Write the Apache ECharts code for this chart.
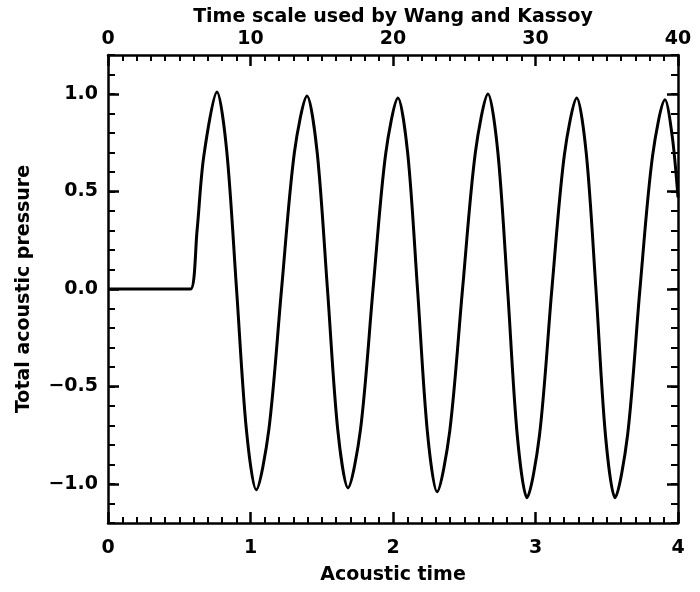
<!DOCTYPE html>
<html>
<head>
<meta charset="utf-8">
<script src="https://cdn.jsdelivr.net/npm/echarts@6/dist/echarts.min.js"></script>
<style>
  html, body { margin: 0; padding: 0; background: #fff; }
  #main { width: 700px; height: 592px; }
</style>
</head>
<body>
<div id="main"></div>
<script>
// values
var acousticTime = [0, 0.5, 0.58, 0.625, 0.672, 0.765, 0.833, 0.902, 0.971, 1.04, 1.129, 1.218, 1.308, 1.397, 1.468, 1.54, 1.612, 1.684, 1.772, 1.86, 1.948, 2.035, 2.104, 2.172, 2.241, 2.309, 2.398, 2.488, 2.578, 2.667, 2.736, 2.804, 2.872, 2.94, 3.028, 3.115, 3.203, 3.29, 3.357, 3.424, 3.491, 3.558, 3.646, 3.733, 3.821, 3.909, 3.96, 4.0];
var pressure = [0, 0, 0, 0.3, 0.68, 1.01, 0.71, 0, -0.72, -1.03, -0.72, 0, 0.70, 0.99, 0.70, 0, -0.72, -1.02, -0.72, 0, 0.69, 0.98, 0.69, 0, -0.73, -1.04, -0.73, 0, 0.70, 1.0, 0.70, 0, -0.75, -1.07, -0.75, 0, 0.69, 0.98, 0.69, 0, -0.75, -1.07, -0.75, 0, 0.68, 0.97, 0.78, 0.47];
var yLabels = [-1.0, -0.5, 0.0, 0.5, 1.0];

var FONT = 'DejaVu Sans';
var txt = { color: '#000', fontFamily: FONT, fontWeight: 'bold', fontSize: 19 };

var chart = echarts.init(document.getElementById('main'));

var pts = [];
for (var i = 0; i < acousticTime.length; i++) {
  pts.push([acousticTime[i], pressure[i]]);
}

var lineStyle = { color: '#000', width: 2.5 };
var axisLine = { onZero: false, lineStyle: lineStyle };

var option = {
  backgroundColor: '#fff',
  animation: false,
  grid: { left: 108, right: 22, top: 55, bottom: 69, outerBoundsMode: 'none' },
  xAxis: [
    {
      type: 'value', position: 'bottom', min: 0, max: 4, interval: 1,
      name: 'Acoustic time', nameLocation: 'middle', nameGap: 43, nameMoveOverlap: false,
      nameTextStyle: txt,
      axisLine: axisLine,
      axisTick: { inside: true, length: 11, lineStyle: lineStyle },
      minorTick: { show: true, splitNumber: 10, length: 6, lineStyle: { color: '#000', width: 2 } },
      axisLabel: Object.assign({ margin: 16 }, txt),
      splitLine: { show: false }
    },
    {
      // top axis: time scale used by Wang and Kassoy
      type: 'value', position: 'top', min: 0, max: 40, interval: 10,
      name: 'Time scale used by Wang and Kassoy', nameLocation: 'middle', nameGap: 28, nameMoveOverlap: false,
      nameTextStyle: txt,
      axisLine: axisLine,
      axisTick: { inside: true, length: 11, lineStyle: lineStyle },
      minorTick: { show: true, splitNumber: 10, length: 6, lineStyle: { color: '#000', width: 2 } },
      axisLabel: Object.assign({ margin: 6 }, txt),
      splitLine: { show: false }
    }
  ],
  yAxis: [
    {
      type: 'value', position: 'left', min: -1.2, max: 1.2, interval: 0.1,
      name: 'Total acoustic pressure', nameLocation: 'middle', nameGap: 74, nameMoveOverlap: false,
      nameTextStyle: txt,
      axisLine: axisLine,
      axisTick: { inside: true, length: 7, lineStyle: { color: '#000', width: 2 } },
      axisLabel: Object.assign({
        margin: 10,
        customValues: yLabels,
        formatter: function (v) { return v.toFixed(1).replace('-', '\u2212'); }
      }, txt),
      splitLine: { show: false }
    },
    {
      type: 'value', position: 'right', min: -1.2, max: 1.2, interval: 0.1,
      axisLine: axisLine,
      axisTick: { inside: true, length: 7, lineStyle: { color: '#000', width: 2 } },
      axisLabel: { show: false },
      splitLine: { show: false }
    },
    {
      // longer ticks at the labelled values, left
      type: 'value', position: 'left', min: -1.2, max: 1.2,
      axisLine: { show: false, onZero: false },
      axisTick: { inside: true, length: 11, customValues: yLabels, lineStyle: lineStyle },
      axisLabel: { show: false },
      splitLine: { show: false }
    },
    {
      // longer ticks at the labelled values, right
      type: 'value', position: 'right', min: -1.2, max: 1.2,
      axisLine: { show: false, onZero: false },
      axisTick: { inside: true, length: 11, customValues: yLabels, lineStyle: lineStyle },
      axisLabel: { show: false },
      splitLine: { show: false }
    }
  ],
  series: [
    {
      type: 'line',
      xAxisIndex: 0,
      yAxisIndex: 0,
      data: pts,
      smooth: 0.3,
      showSymbol: false,
      lineStyle: { color: '#000', width: 3 }
    }
  ]
};

chart.setOption(option, true);
</script>
</body>
</html>
